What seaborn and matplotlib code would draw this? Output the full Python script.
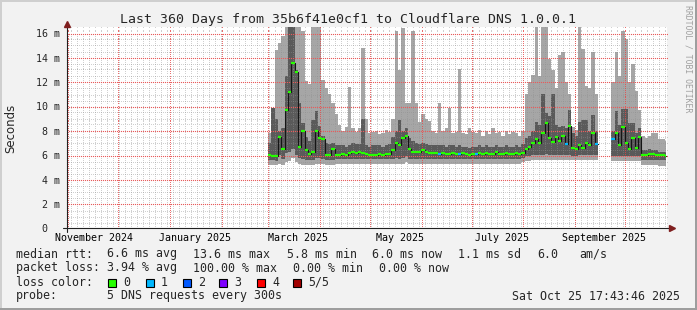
import numpy as np
import pandas as pd
import matplotlib
matplotlib.use("Agg")
import matplotlib.pyplot as plt
import matplotlib.dates as mdates
from matplotlib.patches import Rectangle
import seaborn as sns

# ------------------------------------------------------------------ data
# 2-day bins from 1 Mar 2025 to 25 Oct 2025 (values in milliseconds)
bin_start = pd.date_range("2025-03-01", periods=120, freq="2D")
last_edge = pd.Timestamp("2025-10-25 17:43")
nan = np.nan

median_ms = [6.0, 5.9, 5.9, 7.5, 6.5, 9.7, 11.2, 13.6, 12.8, 6.7,
             8.0, 6.4, 6.1, 6.3, 8.0, 7.4, 7.3, 6.0, 6.0, 6.5,
             6.0, 6.0, 6.1, 6.0, 6.2, 6.3, 6.2, 6.3, 6.2, 6.1,
             6.0, 6.0, 6.0, 6.1, 6.0, 6.1, 6.1, 6.4, 7.0, 6.8,
             7.4, 7.6, 6.5, 6.3, 6.3, 6.3, 6.4, 6.3, 6.2, 6.2,
             6.2, 6.1, 6.2, 6.1, 6.1, 6.2, 6.1, 6.1, 6.2, 6.1,
             6.0, 6.1, 6.1, 6.2, 6.1, 6.2, 6.1, 6.1, 6.3, 6.1,
             6.1, 6.2, 6.1, 6.1, 6.2, 6.1, 6.2, 6.5, 6.7, 7.0,
             7.3, 7.0, 7.8, 8.6, 7.4, 7.1, 7.5, 7.2, 7.6, 6.9,
             8.4, 6.6, 6.5, 6.8, 6.6, 7.0, 6.8, 7.8, 6.9, nan,
             nan, nan, nan, 7.3, 7.8, 6.8, 8.3, 7.0, 6.5, 7.4,
             6.6, 7.5, 6.0, 6.0, 6.1, 6.1, 6.0, 6.0, 6.0, 5.9]

loss_level = [0, 0, 0, 0, 0, 0, 0, 0, 0, 0,
              0, 0, 0, 0, 0, 0, 0, 0, 0, 0,
              0, 0, 0, 0, 0, 0, 0, 0, 0, 0,
              0, 0, 0, 0, 0, 0, 0, 0, 0, 0,
              0, 0, 0, 0, 0, 0, 0, 0, 0, 0,
              0, 1, 0, 0, 0, 0, 0, 1, 0, 0,
              0, 0, 1, 0, 0, 0, 0, 0, 0, 0,
              0, 0, 0, 0, 0, 0, 0, 0, 0, 0,
              0, 0, 0, 0, 0, 0, 0, 0, 0, 1,
              0, 0, 0, 0, 0, 0, 0, 0, 1, 0,
              0, 0, 0, 1, 0, 0, 0, 0, 0, 0,
              0, 0, 0, 0, 0, 0, 0, 0, 0, 0]

smoke_hi = [7.8, 9.9, 14.6, 15.2, 15.8, 16.5, 16.5, 16.5, 16.5, 16.5,
            16.2, 12.1, 11.8, 16.5, 16.5, 16.5, 12.2, 11.5, 11.0, 10.3,
            9.4, 8.5, 8.0, 8.3, 11.6, 8.2, 7.9, 8.2, 14.8, 9.0,
            7.8, 7.9, 8.0, 7.7, 7.8, 8.1, 7.9, 9.0, 16.2, 13.0,
            16.4, 10.3, 10.3, 16.2, 10.3, 8.7, 9.4, 9.0, 8.8, 8.0,
            7.8, 10.3, 8.0, 8.2, 9.9, 7.8, 7.9, 13.1, 7.8, 7.7,
            8.2, 7.9, 7.8, 8.1, 7.6, 8.0, 7.7, 8.2, 7.8, 7.9,
            7.6, 8.0, 7.7, 7.9, 7.8, 7.6, 8.0, 11.0, 12.0, 12.6,
            16.5, 12.5, 16.5, 16.5, 13.9, 13.0, 11.5, 14.2, 14.5, 12.0,
            11.0, 8.3, 8.1, 16.5, 14.7, 11.7, 11.5, 14.5, 11.0, nan,
            nan, nan, nan, 12.0, 14.5, 12.5, 16.2, 15.5, 12.0, 13.5,
            11.3, 9.7, 7.6, 7.4, 7.6, 7.8, 7.8, 7.3, 7.3, 7.2]

smoke_lo = [5.2, 5.2, 5.2, 5.3, 5.2, 5.4, 5.5, 5.8, 5.4, 5.3,
            5.2, 5.2, 5.2, 5.2, 5.3, 5.3, 5.3, 5.2, 5.2, 5.2,
            5.3, 5.3, 5.3, 5.3, 5.3, 5.3, 5.3, 5.3, 5.3, 5.3,
            5.3, 5.3, 5.3, 5.3, 5.3, 5.3, 5.3, 5.3, 5.3, 5.3,
            5.3, 5.4, 5.3, 5.3, 5.3, 5.3, 5.3, 5.3, 5.3, 5.3,
            5.3, 5.3, 5.3, 5.3, 5.3, 5.3, 5.3, 5.3, 5.3, 5.3,
            5.3, 5.3, 5.3, 5.3, 5.3, 5.3, 5.3, 5.3, 5.3, 5.3,
            5.3, 5.3, 5.3, 5.3, 5.3, 5.3, 5.4, 5.5, 5.5, 5.6,
            5.6, 5.6, 5.6, 5.6, 5.6, 5.6, 5.6, 5.6, 5.6, 5.6,
            5.6, 5.6, 5.6, 5.6, 5.6, 5.6, 5.6, 5.6, 5.6, nan,
            nan, nan, nan, 5.5, 5.5, 5.5, 5.5, 5.5, 5.5, 5.5,
            5.5, 5.5, 5.2, 5.2, 5.2, 5.2, 5.2, 5.1, 5.1, 5.1]

core_lo = [5.6, 5.6, 5.5, 6.0, 5.7, 6.2, 6.3, 6.5, 6.0, 5.8,
           5.7, 5.6, 5.6, 5.6, 5.8, 5.8, 5.7, 5.6, 5.6, 5.6,
           5.7, 5.7, 5.7, 5.7, 5.7, 5.7, 5.7, 5.7, 5.7, 5.7,
           5.7, 5.7, 5.7, 5.7, 5.7, 5.7, 5.7, 5.7, 5.8, 5.7,
           5.8, 5.9, 5.7, 5.7, 5.7, 5.7, 5.7, 5.7, 5.7, 5.7,
           5.7, 5.7, 5.7, 5.7, 5.7, 5.7, 5.7, 5.7, 5.7, 5.7,
           5.7, 5.7, 5.7, 5.7, 5.7, 5.7, 5.7, 5.7, 5.7, 5.7,
           5.7, 5.7, 5.7, 5.7, 5.7, 5.7, 5.8, 5.9, 5.9, 6.0,
           6.0, 6.0, 6.0, 6.1, 6.0, 6.0, 6.0, 6.0, 6.0, 6.0,
           6.0, 5.9, 5.9, 6.0, 6.0, 6.0, 6.0, 6.0, 6.0, nan,
           nan, nan, nan, 5.9, 5.9, 5.9, 5.9, 5.9, 5.9, 5.9,
           5.9, 5.9, 5.6, 5.6, 5.6, 5.6, 5.6, 5.6, 5.6, 5.6]

core_hi = [7.0, 9.9, 9.0, 8.0, 8.2, 12.5, 16.5, 16.5, 13.0, 10.3,
           8.6, 7.5, 7.2, 8.9, 9.6, 8.4, 7.6, 7.0, 6.9, 7.0,
           6.8, 6.8, 6.8, 6.7, 6.8, 7.0, 6.9, 6.9, 9.0, 6.8,
           6.7, 6.8, 6.8, 6.8, 6.7, 6.8, 6.9, 7.5, 8.0, 8.9,
           8.0, 8.2, 7.4, 7.2, 7.0, 6.9, 7.0, 6.9, 6.8, 6.8,
           6.8, 6.8, 6.8, 6.7, 6.8, 6.8, 6.7, 6.8, 6.7, 6.7,
           6.6, 6.7, 6.7, 6.8, 6.7, 6.8, 6.7, 6.7, 6.8, 6.7,
           6.7, 6.8, 6.7, 6.7, 6.8, 6.7, 6.9, 7.4, 7.6, 8.0,
           8.7, 8.5, 11.0, 9.5, 9.2, 11.0, 8.5, 8.3, 8.4, 8.2,
           9.7, 7.8, 7.6, 8.7, 8.9, 8.9, 8.0, 9.3, 8.0, nan,
           nan, nan, nan, 8.0, 9.6, 8.5, 9.8, 9.8, 8.6, 8.6,
           7.8, 8.2, 6.4, 6.4, 6.5, 6.4, 6.4, 6.3, 6.3, 6.3]

y_ticks = [0, 2, 4, 6, 8, 10, 12, 14, 16]
y_tick_labels = ["0  ", "2 m", "4 m", "6 m", "8 m", "10 m", "12 m", "14 m", "16 m"]
month_labels = ["November 2024", "January 2025", "March 2025",
                "May 2025", "July 2025", "September 2025"]
month_label_dates = ["2024-11-16 12:00", "2025-01-16 12:00", "2025-03-19 00:00",
                     "2025-05-19 12:00", "2025-07-19 12:00", "2025-09-19 00:00"]

title = "Last 360 Days from 35b6f41e0cf1 to Cloudflare DNS 1.0.0.1"
rtt_label = "median rtt:"
rtt_stats = ["6.6 ms avg", "13.6 ms max", "5.8 ms min", "6.0 ms now", "1.1 ms sd", "6.0", "am/s"]
loss_label = "packet loss:"
loss_stats = ["3.94 % avg", "100.00 % max", "0.00 % min", "0.00 % now"]
color_label = "loss color:"
loss_names = ["0", "1", "2", "3", "4", "5/5"]
loss_colors = ["#26ff00", "#00b8ff", "#0059ff", "#7e00ff", "#ff0000", "#a10000"]
probe_label = "probe:"
probe_text = "5 DNS requests every 300s"
stamp = "Sat Oct 25 17:43:46 2025"

# ------------------------------------------------------------------ style
sns.set_theme(style="white")
plt.rcParams["font.family"] = ["DejaVu Sans Mono", "DejaVu Sans"]
MONO = "DejaVu Sans Mono"

W, H = 697, 310
fig = plt.figure(figsize=(W / 100, H / 100), dpi=100)
fig.patch.set_facecolor("#f2f2f2")

ax_bottom_px, ax_top_px = 228.3, 27.2
ax = fig.add_axes([67 / W, (H - ax_bottom_px) / H, 600 / W, (ax_bottom_px - ax_top_px) / H])
ax.set_facecolor("white")
aw = 600.0
ah = ax_bottom_px - ax_top_px

t0 = mdates.date2num(pd.Timestamp("2024-10-31 12:00"))
t1 = t0 + 360
YMAX = 16.5
ax.set_xlim(t0, t1)
ax.set_ylim(0, YMAX)

edges = mdates.date2num(list(bin_start) + [last_edge])
med = np.asarray(median_ms, float)
lvl = np.asarray(loss_level)
valid = ~np.isnan(med)

# contiguous segments of valid bins
segs = []
i = 0
n = len(med)
while i < n:
    if valid[i]:
        j = i
        while j < n and valid[j]:
            j += 1
        segs.append((i, j))
        i = j
    else:
        i += 1

LIGHT, DARK = "#a6a6a6", "#5a5a5a"
for a, b in segs:
    xs = edges[a:b + 1]
    def ext(v):
        v = np.asarray(v, float)[a:b]
        return np.append(v, v[-1])
    ax.fill_between(xs, ext(smoke_lo), ext(smoke_hi), step="post", color=LIGHT, lw=0, zorder=1)
    ax.fill_between(xs, ext(core_lo), ext(core_hi), step="post", color=DARK, lw=0, zorder=2)

# connecting median steps (dark)
rows = []
for k, (a, b) in enumerate(segs):
    xs = edges[a:b + 1]
    ys = np.append(med[a:b], med[b - 1])
    rows += [dict(t=xx, y=yy, seg=k) for xx, yy in zip(xs, ys)]
df = pd.DataFrame(rows)
sns.lineplot(data=df, x="t", y="y", units="seg", estimator=None, color="#151515",
             lw=0.8, drawstyle="steps-post", ax=ax, zorder=4, legend=False)

# grid: rrdtool-style 1px dotted lines, as single-pixel dots snapped to the pixel grid
GRID = (0.56, 0.56, 0.56, 0.42)
MGRID_V = (0.90, 0.28, 0.28, 0.8)
MGRID_H = (0.91, 0.36, 0.36, 1.0)
trans = ax.transData
inv = trans.inverted()

def snap_x(xs):
    xs = np.asarray(xs, float)
    d = trans.transform(np.c_[xs, np.zeros_like(xs)])[:, 0]
    d = np.floor(d) + 0.5
    return inv.transform(np.c_[d, np.zeros_like(d)])[:, 0]

def snap_y(ys):
    ys = np.asarray(ys, float)
    d = trans.transform(np.c_[np.full_like(ys, t0), ys])[:, 1]
    d = np.floor(d) + 0.5
    return inv.transform(np.c_[np.full_like(d, t0), d])[:, 1]

x_lo_d, y_lo_d = trans.transform((t0, 0))
x_hi_d, y_hi_d = trans.transform((t1, YMAX))
row_d = np.arange(np.ceil(y_lo_d) + 0.5, y_hi_d, 2)
col_d = np.arange(np.ceil(x_lo_d) + 1.5, x_hi_d, 2)
dot_y = inv.transform(np.c_[np.full_like(row_d, x_lo_d), row_d])[:, 1]
dot_x = inv.transform(np.c_[col_d, np.full_like(col_d, y_lo_d)])[:, 0]

def vdots(xpos, color, z, ms=0.72):
    xpos = snap_x(xpos)
    ax.plot(np.repeat(xpos, len(dot_y)), np.tile(dot_y, len(xpos)), linestyle="none",
            marker="s", ms=ms, mew=0, color=color, zorder=z)

def hdots(ypos, color, z, ms=0.72):
    ypos = snap_y(ypos)
    ax.plot(np.tile(dot_x, len(ypos)), np.repeat(ypos, len(dot_x)), linestyle="none",
            marker="s", ms=ms, mew=0, color=color, zorder=z)

minor_x = np.arange(t0 + 2.2, t1, 3.6)
minor_y = [v for v in np.arange(0.5, YMAX, 0.5) if v % 2 != 0]
month_starts = mdates.date2num(pd.date_range("2024-11-01", "2025-10-01", freq="MS"))
vdots(minor_x, GRID, 3)
hdots(minor_y, GRID, 3)
vdots(month_starts, MGRID_V, 3.5)
hdots(y_ticks[1:], MGRID_H, 3.5, ms=0.8)

# median marks coloured by loss
for lv in sorted(set(loss_level)):
    m = valid & (lvl == lv)
    ax.hlines(med[m], edges[:-1][m], edges[1:][m], colors=loss_colors[lv], lw=1.6, zorder=5)

# axes / ticks
for s in ax.spines.values():
    s.set_visible(False)
ax.set_xlabel("")
ax.set_ylabel("")
ax.set_xticks(month_starts)
ax.set_xticklabels([])
ax.set_xticks(minor_x, minor=True)
ax.tick_params(axis="x", which="major", length=2.5, width=0.72, color=(0.87, 0.31, 0.31), direction="out")
ax.tick_params(axis="x", which="minor", length=1.5, width=0.72, color=(0.56, 0.56, 0.56), direction="out")
ax.set_yticks(y_ticks)
ax.set_yticklabels(y_tick_labels, fontfamily=MONO, fontsize=7.2)
ax.set_yticks(minor_y, minor=True)
ax.tick_params(axis="y", which="major", length=2.2, width=0.72, color=(0.87, 0.31, 0.31), pad=3.2, direction="out")
ax.tick_params(axis="y", which="minor", length=1.5, width=0.72, color=(0.56, 0.56, 0.56), direction="out")
ax.set_xlim(t0, t1)
ax.set_ylim(0, YMAX)

for lab, d in zip(month_labels, month_label_dates):
    ax.text(mdates.date2num(pd.Timestamp(d)), -0.05, lab, transform=ax.get_xaxis_transform(),
            ha="center", va="center", fontsize=7.2, family=MONO, color="black")

AXC = "#202020"
ARROW = "#7f1f1f"
ax.plot([-4 / aw, 1 + 2 / aw], [0, 0], transform=ax.transAxes, color=AXC, lw=0.8, clip_on=False, zorder=6)
ax.plot([0, 0], [-4 / ah, 1 + 2 / ah], transform=ax.transAxes, color=AXC, lw=0.8, clip_on=False, zorder=6)
ax.plot([1 + 4.5 / aw], [0], marker=">", ms=4.2, color=ARROW, mec=ARROW, transform=ax.transAxes, clip_on=False, zorder=7)
ax.plot([0], [1 + 3.5 / ah], marker="^", ms=4.2, color=ARROW, mec=ARROW, transform=ax.transAxes, clip_on=False, zorder=7)

# ------------------------------------------------------------------ texts
def ftext(x, y, s, fs=8.4, **kw):
    kw.setdefault("va", "center")
    kw.setdefault("family", MONO)
    fig.text(x / W, 1 - y / H, s, fontsize=fs, **kw)

ftext(348.5, 19, title, fs=9.5, ha="center")
ftext(11, 128, "Seconds", fs=8.5, ha="center", rotation=90, family="DejaVu Sans")
ftext(688, 5, "RRDTOOL / TOBI OETIKER", fs=5.9, ha="center", va="top", rotation=270, color="#a0a0a0")

ftext(16, 254, rtt_label)
for s, x in zip(rtt_stats, [107, 193, 287, 372, 458, 537, 579]):
    ftext(x, 254, s)
ftext(16, 268, loss_label)
for s, x in zip(loss_stats, [107, 193, 293, 379]):
    ftext(x, 268, s)
ftext(16, 282, color_label)
for s, c, x in zip(loss_names, loss_colors, [108, 146, 183, 219, 257, 293]):
    fig.patches.append(Rectangle((x / W, 1 - 286.5 / H), 7.5 / W, 8 / H, transform=fig.transFigure,
                                 facecolor=c, edgecolor="black", lw=0.8))
    ftext(x + 15, 282, s)
ftext(16, 296, probe_label)
ftext(107, 296, probe_text)
ftext(680, 296, stamp, ha="right")

# rrdtool 3D frame
fig.patches.append(Rectangle((0, 1 - 2 / H), 1, 2 / H, transform=fig.transFigure, color="#cfcfcf", lw=0))
fig.patches.append(Rectangle((0, 0), 2 / W, 1, transform=fig.transFigure, color="#cfcfcf", lw=0))
fig.patches.append(Rectangle((0, 0), 1, 2 / H, transform=fig.transFigure, color="#9e9e9e", lw=0))
fig.patches.append(Rectangle((1 - 2 / W, 0), 2 / W, 1, transform=fig.transFigure, color="#9e9e9e", lw=0))

fig.savefig("out.png", dpi=100, facecolor=fig.get_facecolor())
